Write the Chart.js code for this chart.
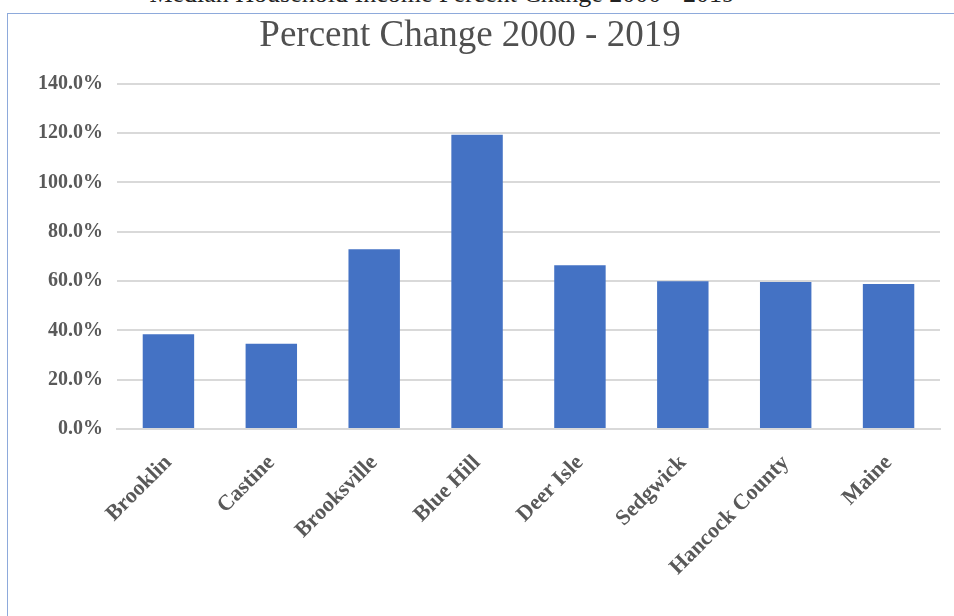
<!DOCTYPE html>
<html>
<head>
<meta charset="utf-8">
<script src="https://cdn.jsdelivr.net/npm/chart.js@4.4.0/dist/chart.umd.min.js"></script>
<style>
  html, body { margin: 0; padding: 0; background: #fff; overflow: hidden; }
  #wrap { position: relative; width: 954px; height: 616px; }
  #caption {
    position: absolute; right: 219px; top: -21px; white-space: nowrap;
    font: 26px "Liberation Serif", serif; color: #222;
  }
  #frame {
    position: absolute; left: 7px; top: 13px; width: 960px; height: 620px;
    border: 1px solid #8eaadb; pointer-events: none;
  }
  canvas { position: absolute; left: 0; top: 0; }
</style>
</head>
<body>
<div id="wrap">
  <div id="caption">Median Household Income Percent Change 2000 - 2019</div>
  <canvas id="chart" width="954" height="616"></canvas>
  <div id="frame"></div>
</div>
<script>
// Percent change per place, 2000 - 2019
const places = ['Brooklin', 'Castine', 'Brooksville', 'Blue Hill', 'Deer Isle', 'Sedgwick', 'Hancock County', 'Maine'];
const pctChange = [38.4, 34.6, 72.9, 119.3, 66.4, 59.9, 59.6, 58.8];
const yTicks = [0, 20, 40, 60, 80, 100, 120, 140];

const grey = '#595959';
const serif = '"Liberation Serif", "DejaVu Serif", serif';

new Chart(document.getElementById('chart'), {
    type: 'bar',
    data: {
        labels: places,
        datasets: [{
            data: pctChange,
            backgroundColor: '#4472c4',
            borderWidth: 0,
            barPercentage: 0.5,
            categoryPercentage: 1
        }]
    },
    options: {
        responsive: false,
        animation: false,
        layout: { padding: { left: 0, right: 14, top: 16, bottom: 0 } },
        plugins: {
            legend: { display: false },
            tooltip: { enabled: false },
            title: {
                display: true,
                text: 'Percent Change 2000 - 2019',
                color: '#505050',
                font: { family: serif, size: 37, weight: 'normal', lineHeight: 1.1 },
                padding: { top: 0, bottom: 27 }
            }
        },
        scales: {
            x: {
                grid: { display: false, drawTicks: false },
                border: { color: '#d9d9d9', width: 2 },
                ticks: {
                    color: grey,
                    font: { family: serif, size: 22, weight: 'bold' },
                    minRotation: 45,
                    maxRotation: 45,
                    padding: 21
                },
                afterFit: function(scale) { scale.height = 187; }
            },
            y: {
                min: 0,
                max: 140,
                afterBuildTicks: function(scale) {
                    scale.ticks = yTicks.map(v => ({ value: v }));
                },
                grid: { color: '#d9d9d9', lineWidth: 2, drawTicks: false },
                border: { display: false },
                ticks: {
                    color: grey,
                    font: { family: serif, size: 20, weight: 'bold' },
                    padding: 14,
                    callback: function(value) {
                        return value.toFixed(1) + '%';
                    }
                },
                afterFit: function(scale) { scale.width = 117; }
            }
        }
    }
});
</script>
</body>
</html>
